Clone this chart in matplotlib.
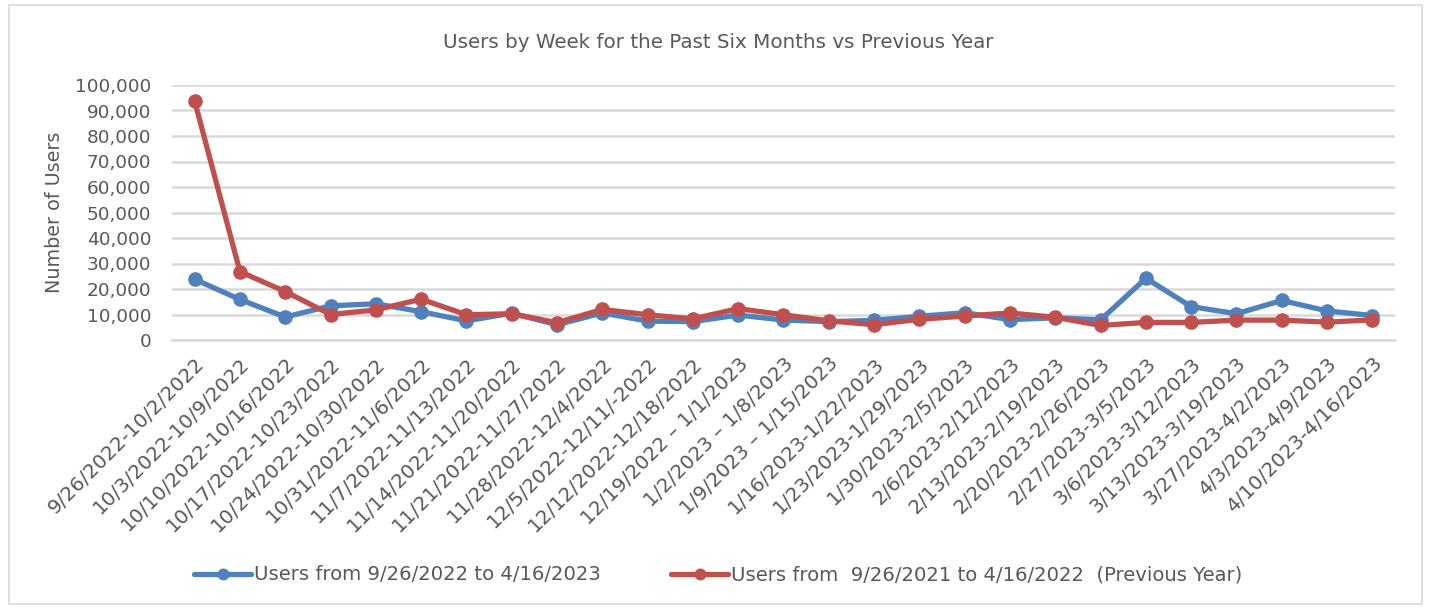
import matplotlib
matplotlib.use("Agg")
import matplotlib.pyplot as plt
from matplotlib.ticker import FuncFormatter, MultipleLocator
from matplotlib.patches import Rectangle

weeks = [
    "9/26/2022-10/2/2022", "10/3/2022-10/9/2022", "10/10/2022-10/16/2022",
    "10/17/2022-10/23/2022", "10/24/2022-10/30/2022", "10/31/2022-11/6/2022",
    "11/7/2022-11/13/2022", "11/14/2022-11/20/2022", "11/21/2022-11/27/2022",
    "11/28/2022-12/4/2022", "12/5/2022-12/11/-2022", "12/12/2022-12/18/2022",
    "12/19/2022 \u2013 1/1/2023", "1/2/2023 \u2013 1/8/2023", "1/9/2023 \u2013 1/15/2023",
    "1/16/2023-1/22/2023", "1/23/2023-1/29/2023", "1/30/2023-2/5/2023",
    "2/6/2023-2/12/2023", "2/13/2023-2/19/2023", "2/20/2023-2/26/2023",
    "2/27/2023-3/5/2023", "3/6/2023-3/12/2023", "3/13/2023-3/19/2023",
    "3/27/2023-4/2/2023", "4/3/2023-4/9/2023", "4/10/2023-4/16/2023",
]

users_current = [23800, 15900, 9000, 13400, 14200, 11100, 7500, 10500, 6000,
                 10600, 7400, 7200, 9800, 7800, 7200, 7700, 9300, 10700,
                 8000, 8700, 7900, 24200, 13100, 10300, 15500, 11400, 9600]
users_previous = [93700, 26800, 19000, 10000, 11800, 16000, 9900, 10300, 6800,
                  12000, 9900, 8300, 12300, 9900, 7500, 6000, 8100, 9400,
                  10600, 8900, 5700, 6900, 6900, 7800, 7800, 7000, 7900]

label_current = "Users from 9/26/2022 to 4/16/2023"
label_previous = "Users from  9/26/2021 to 4/16/2022  (Previous Year)"
title = "Users by Week for the Past Six Months vs Previous Year"
ylabel = "Number of Users"

BLUE = "#4F81BD"
RED = "#C0504D"
TXT = "#595959"
GRID = "#D9D9D9"

plt.rcParams['font.family'] = ['DejaVu Sans']

fig = plt.figure(figsize=(14.31, 6.09), dpi=100)
fig.patches.append(Rectangle((0.006, 0.008), 0.988, 0.984, transform=fig.transFigure,
                             fill=False, edgecolor=GRID, linewidth=1.2))
ax = fig.add_axes([172/1431, 1-340/609, (1395-172)/1431, (340-85)/609])

x = list(range(len(weeks)))
ax.plot(x, users_current, color=BLUE, lw=3.8, marker='o', ms=9.5, label=label_current,
        solid_capstyle='round', zorder=3)
ax.plot(x, users_previous, color=RED, lw=3.8, marker='o', ms=9.5, label=label_previous,
        solid_capstyle='round', zorder=4)

ax.set_xlim(-0.5, len(weeks)-0.5)
ax.set_ylim(0, 100000)
ax.yaxis.set_major_locator(MultipleLocator(10000))
ax.yaxis.set_major_formatter(FuncFormatter(lambda v, p: f"{int(v):,}"))
ax.grid(axis='y', color=GRID, lw=1.8)
ax.set_axisbelow(True)
for s in ['top', 'right', 'left']:
    ax.spines[s].set_visible(False)
ax.spines['bottom'].set_color(GRID)
ax.spines['bottom'].set_linewidth(1.8)
ax.tick_params(axis='y', length=0, colors=TXT, labelsize=13.3, pad=15)
ax.set_xticks(x)
ax.set_xticklabels(weeks, rotation=45, ha='right', rotation_mode='anchor')
ax.tick_params(axis='x', length=0, colors=TXT, labelsize=14.3, pad=10)

ax.set_ylabel(ylabel, color=TXT, fontsize=13.8, labelpad=8)
fig.text(0.502, 1-42/609, title, ha='center', va='center', color=TXT, fontsize=14.3)

fig.legend(loc='center', bbox_to_anchor=(0.502, 1-575/609), ncol=2, frameon=False,
           fontsize=14.1, labelcolor=TXT, handlelength=2.9, columnspacing=3.6,
           handletextpad=0.15, markerscale=0.8)

fig.savefig("out.png", dpi=100)
